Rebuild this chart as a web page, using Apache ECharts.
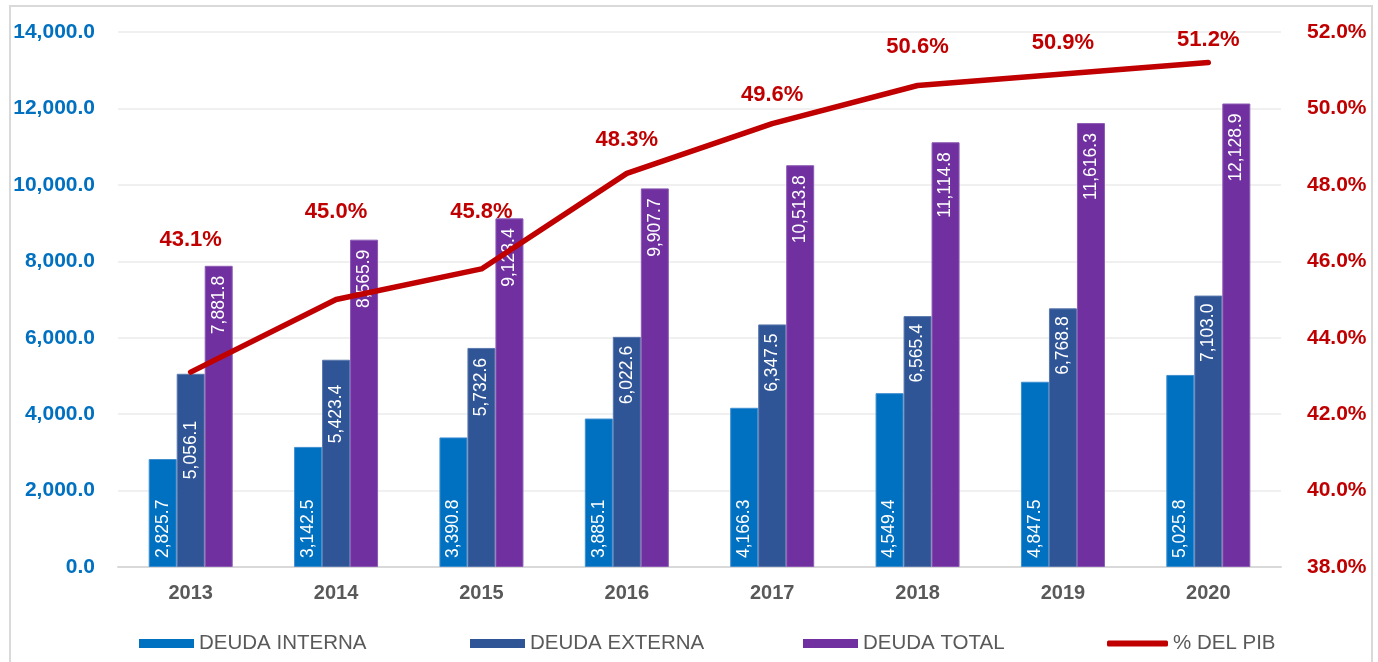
<!DOCTYPE html>
<html>
<head>
<meta charset="utf-8">
<script src="https://cdn.jsdelivr.net/npm/echarts@6/dist/echarts.min.js"></script>
<style>
  html, body { margin: 0; padding: 0; background: #fff; }
  #chart { width: 1378px; height: 662px; }
</style>
</head>
<body>
<div id="chart"></div>
<script>
  // datos
  var years = ['2013', '2014', '2015', '2016', '2017', '2018', '2019', '2020']
  var deudaInterna = [2825.7, 3142.5, 3390.8, 3885.1, 4166.3, 4549.4, 4847.5, 5025.8]
  var deudaExterna = [5056.1, 5423.4, 5732.6, 6022.6, 6347.5, 6565.4, 6768.8, 7103.0]
  var deudaTotal = [7881.8, 8565.9, 9123.4, 9907.7, 10513.8, 11114.8, 11616.3, 12128.9]
  var pctPib = [43.1, 45.0, 45.8, 48.3, 49.6, 50.6, 50.9, 51.2]

  // ajustes de etiquetas (colocadas a mano en el original)
  var pibLabelDy = [-120, -76, -45, -21, -17, -27, -19, -11]
  var externaLabelDist = [47, 25, 10, 9, 9, 8, 8, 8]

  var fmtNum = function (v) {
    return Number(v).toLocaleString('en-US', { minimumFractionDigits: 1, maximumFractionDigits: 1 })
  }

  var barLabel = {
    show: true,
    rotate: 90,
    color: '#fff',
    fontFamily: '"Liberation Sans Narrow", "Liberation Sans", Arial, sans-serif',
    fontSize: 17.5,
    verticalAlign: 'middle',
    formatter: function (p) { return fmtNum(p.value) }
  }

  var chart = echarts.init(document.getElementById('chart'))
  chart.setOption({
    animation: false,
    textStyle: { fontFamily: '"Liberation Sans", Arial, sans-serif' },
    graphic: [{
      type: 'rect',
      shape: { x: 10, y: 6, width: 1362, height: 720 },
      style: { fill: 'none', stroke: '#d9d9d9', lineWidth: 2 },
      silent: true
    }],
    grid: { left: 118, right: 97, top: 32, bottom: 95 },
    legend: [
      { left: 134, top: 628, itemWidth: 55, itemHeight: 9, data: [{ name: 'DEUDA INTERNA', icon: 'rect' }] },
      { left: 465, top: 628, itemWidth: 55, itemHeight: 9, data: [{ name: 'DEUDA EXTERNA', icon: 'rect' }] },
      { left: 798, top: 628, itemWidth: 55, itemHeight: 9, data: [{ name: 'DEUDA TOTAL', icon: 'rect' }] },
      { left: 1102, top: 628, itemWidth: 61, itemHeight: 6, data: [{ name: '% DEL PIB', icon: 'roundRect' }] }
    ].map(function (l) {
      l.itemGap = 0
      l.itemStyle = { borderWidth: 0 }
      l.textStyle = { color: '#595959', fontSize: 20.5, fontFamily: '"Liberation Sans", Arial, sans-serif' }
      return l
    }),
    xAxis: {
      type: 'category',
      data: years,
      axisLine: { lineStyle: { color: '#d9d9d9', width: 2 } },
      axisTick: { show: false },
      axisLabel: { color: '#595959', fontWeight: 'bold', fontSize: 20, margin: 16 }
    },
    yAxis: [
      {
        type: 'value',
        min: 0,
        max: 14000,
        interval: 2000,
        axisLine: { show: false },
        axisTick: { show: false },
        splitLine: { lineStyle: { color: '#ebebeb', width: 1.5 } },
        axisLabel: {
          color: '#0070C0', fontWeight: 'bold', fontSize: 21, margin: 23,
          formatter: function (v) { return fmtNum(v) }
        }
      },
      {
        type: 'value',
        min: 38,
        max: 52,
        interval: 2,
        position: 'right',
        axisLine: { show: false },
        axisTick: { show: false },
        splitLine: { show: false },
        axisLabel: {
          color: '#C00000', fontWeight: 'bold', fontSize: 21, margin: 26,
          formatter: function (v) { return v.toFixed(1) + '%' }
        }
      }
    ],
    series: [
      {
        name: 'DEUDA INTERNA',
        type: 'bar',
        barWidth: 28,
        barGap: '0%',
        itemStyle: { color: '#0070C0', borderColor: '#3f8fd0', borderWidth: 1 },
        label: Object.assign({}, barLabel, { position: 'insideBottom', align: 'left', distance: 9 }),
        data: deudaInterna
      },
      {
        name: 'DEUDA EXTERNA',
        type: 'bar',
        barWidth: 28,
        barGap: '0%',
        itemStyle: { color: '#2F5597', borderColor: '#5a78ad', borderWidth: 1 },
        label: Object.assign({}, barLabel, { position: 'insideTop', align: 'right' }),
        data: deudaExterna.map(function (v, i) {
          return { value: v, label: { distance: externaLabelDist[i] } }
        })
      },
      {
        name: 'DEUDA TOTAL',
        type: 'bar',
        barWidth: 28,
        barGap: '0%',
        itemStyle: { color: '#7030A0', borderColor: '#8c5ab4', borderWidth: 1 },
        label: Object.assign({}, barLabel, { position: 'insideTop', align: 'right', distance: 10 }),
        data: deudaTotal
      },
      {
        name: '% DEL PIB',
        type: 'line',
        yAxisIndex: 1,
        z: 5,
        symbol: 'circle',
        symbolSize: 2,
        showSymbol: true,
        itemStyle: { color: '#C00000' },
        lineStyle: { color: '#C00000', width: 5.5, cap: 'round', join: 'round' },
        label: {
          show: true,
          position: 'top',
          distance: 0,
          color: '#C00000',
          fontWeight: 'bold',
          fontSize: 22,
          formatter: function (p) { return p.value.toFixed(1) + '%' }
        },
        data: pctPib.map(function (v, i) {
          return { value: v, label: { offset: [0, pibLabelDy[i]] } }
        })
      }
    ]
  })
</script>
</body>
</html>
